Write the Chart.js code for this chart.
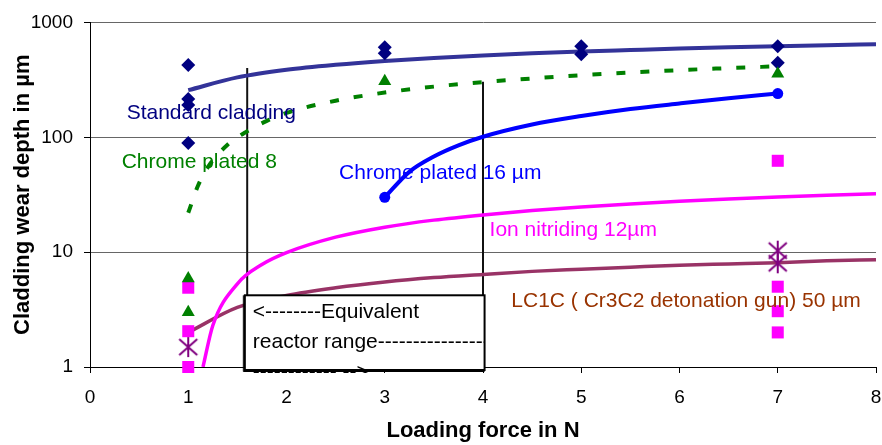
<!DOCTYPE html>
<html>
<head>
<meta charset="utf-8">
<script src="https://cdn.jsdelivr.net/npm/chart.js@4"></script>
<style>
  body { margin: 0; background: #fff; }
</style>
</head>
<body>
<canvas id="wearChart" width="882" height="445"></canvas>
<script>
// measured points
const standardX = [1, 1, 1, 1, 3, 3, 5, 5, 7, 7];
const standardY = [425, 215, 191, 89, 608, 540, 620, 527, 620, 445];
const chrome8X = [1, 1, 3, 7];
const chrome8Y = [5.9, 3.0, 308, 357];
const chrome16X = [3, 7];
const chrome16Y = [30, 240];
const ionX = [1, 1, 1, 7, 7, 7, 7];
const ionY = [4.9, 2.05, 1.0, 62.4, 5.0, 3.06, 2.0];
const lc1cX = [1, 7, 7];
const lc1cY = [1.49, 10.3, 8.0];

// trend curves
const standardFitX = [1, 1.5, 2, 2.5, 3, 3.5, 4, 4.5, 5, 5.5, 6, 6.5, 7, 7.5, 8];
const standardFitY = [257, 332, 387, 428, 462, 490, 515, 538, 558, 575, 592, 607, 621, 634, 645];
const chrome8FitX = [1, 1.1, 1.2, 1.4, 1.6, 1.8, 2, 2.5, 3, 3.5, 4, 4.5, 5, 5.5, 6, 6.5, 7];
const chrome8FitY = [22, 38, 55, 86, 113, 139, 163, 208, 245, 276, 302, 325, 347, 366, 384, 400, 415];
const chrome16FitX = [3, 3.25, 3.5, 3.75, 4, 4.5, 5, 5.5, 6, 6.5, 7];
const chrome16FitY = [30, 50, 68, 85, 101, 129, 153, 176, 197, 219, 240];
const ionFitX = [1.15, 1.25, 1.5, 1.75, 2, 2.5, 3, 3.5, 4, 4.5, 5, 5.5, 6, 6.5, 7, 7.5, 8];
const ionFitY = [1.0, 2.3, 5.3, 7.8, 9.9, 13.5, 16.5, 19, 21.1, 23, 24.7, 26.3, 27.7, 29, 30.2, 31.3, 32.3];
const lc1cFitX = [1, 1.5, 2, 2.5, 3, 3.5, 4, 4.5, 5, 5.5, 6, 6.5, 7, 7.5, 8];
const lc1cFitY = [2.0, 3.3, 4.2, 4.9, 5.5, 6.0, 6.4, 6.8, 7.1, 7.4, 7.7, 7.9, 8.1, 8.4, 8.6];

// equivalent reactor range markers
const reactorX = [1.6, 4.0];
const reactorTop = [400, 305];

const yTicks = [1, 10, 100, 1000];

const FONT = '"Liberation Sans", Arial, sans-serif';
Chart.defaults.font.family = FONT;
Chart.defaults.color = '#000';

function pts(xs, ys) {
    return xs.map((x, i) => ({ x: x, y: ys[i] }));
}

// excel style asterisk marker
const star = document.createElement('canvas');
star.width = 22;
star.height = 22;
(function () {
    const c = star.getContext('2d');
    c.strokeStyle = '#800080';
    c.lineWidth = 2;
    c.beginPath();
    c.moveTo(11, 1); c.lineTo(11, 21);
    c.moveTo(2, 3); c.lineTo(20, 19);
    c.moveTo(20, 3); c.lineTo(2, 19);
    c.stroke();
})();

function curve(xs, ys, color, width, dash) {
    return {
        data: pts(xs, ys),
        showLine: true,
        borderColor: color,
        borderWidth: width,
        borderDash: dash || [],
        pointRadius: 0,
        cubicInterpolationMode: 'monotone',
        order: 10
    };
}

function markers(xs, ys, style, radius, color, order) {
    return {
        data: pts(xs, ys),
        pointStyle: style,
        pointRadius: radius,
        backgroundColor: color,
        borderColor: color,
        borderWidth: 0,
        clip: false,
        order: order
    };
}

const reactorLines = reactorX.map((x, i) => ({
    data: [{ x: x, y: reactorTop[i] }, { x: x, y: 1 }],
    showLine: true,
    borderColor: '#111',
    borderWidth: 2,
    pointRadius: 0,
    order: 11
}));

const notes = [
    { text: 'Standard cladding', x: 0.373, y: 144, color: '#000080' },
    { text: 'Chrome plated 8', x: 0.322, y: 53.5, color: '#008000' },
    { text: 'Chrome plated 16 µm', x: 2.535, y: 43.5, color: '#0000ff' },
    { text: 'Ion nitriding 12µm', x: 4.067, y: 13.95, color: '#ff00ff' },
    { text: 'LC1C ( Cr3C2 detonation gun) 50 µm', x: 4.288, y: 3.33, color: '#993300' }
];

const rangeBox = { x1: 1.576, x2: 4.016, top: 4.21 };
const rangeText = ['<--------Equivalent', 'reactor range----------------', '------------ -->'];

const notesPlugin = {
    id: 'notes',
    afterDatasetsDraw(chart) {
        const ctx = chart.ctx;
        const xs = chart.scales.x, ys = chart.scales.y;
        ctx.save();
        // reactor range box
        const l = xs.getPixelForValue(rangeBox.x1);
        const r = xs.getPixelForValue(rangeBox.x2);
        const t = ys.getPixelForValue(rangeBox.top);
        const b = ys.getPixelForValue(1) + 3;
        ctx.fillStyle = '#fff';
        ctx.fillRect(l, t, r - l, b - t);
        ctx.save();
        ctx.beginPath();
        ctx.rect(l, t, r - l, b - t + 3);
        ctx.clip();
        ctx.fillStyle = '#000';
        ctx.font = '21px ' + FONT;
        ctx.textBaseline = 'alphabetic';
        rangeText.forEach((s, i) => ctx.fillText(s, l + 8, t + 23 + i * 30));
        ctx.restore();
        ctx.strokeStyle = '#000';
        ctx.lineWidth = 2;
        ctx.strokeRect(l, t, r - l, b - t);
        ctx.lineWidth = 1;
        ctx.beginPath();
        ctx.moveTo(l - 1.5, t); ctx.lineTo(l - 1.5, b + 1.5); ctx.lineTo(r, b + 1.5);
        ctx.stroke();

        // series labels
        ctx.font = '21px ' + FONT;
        notes.forEach(n => {
            ctx.fillStyle = n.color;
            ctx.fillText(n.text, xs.getPixelForValue(n.x), ys.getPixelForValue(n.y));
        });
        ctx.restore();
    }
};

new Chart(document.getElementById('wearChart'), {
    type: 'scatter',
    data: {
        datasets: [
            ...reactorLines,
            curve(standardFitX, standardFitY, '#333399', 4),
            curve(chrome8FitX, chrome8FitY, '#008000', 4, [9, 15]),
            curve(chrome16FitX, chrome16FitY, '#0000ff', 4),
            curve(ionFitX, ionFitY, '#ff00ff', 3.5),
            curve(lc1cFitX, lc1cFitY, '#993366', 3.5),
            markers(ionX, ionY, 'rect', 8.5, '#ff00ff', 5),
            markers(standardX, standardY, 'rectRot', 7, '#000080', 4),
            markers(lc1cX, lc1cY, star, 10, '#800080', 3),
            markers(chrome16X, chrome16Y, 'circle', 5.5, '#0000ff', 2),
            markers(chrome8X, chrome8Y, 'triangle', 7.5, '#008000', 1)
        ]
    },
    options: {
        responsive: false,
        animation: false,
        layout: { autoPadding: false, padding: { top: 21, right: 6, left: 0, bottom: 0 } },
        plugins: {
            legend: { display: false },
            tooltip: { enabled: false }
        },
        scales: {
            x: {
                type: 'linear',
                min: 0,
                max: 8,
                afterFit: s => { s.height = 78; s.paddingLeft = 0; s.paddingRight = 0; },
                ticks: { stepSize: 1, padding: 13, maxRotation: 0, font: { size: 19 }, color: '#000' },
                grid: { drawOnChartArea: false, tickLength: 6, tickColor: '#000' },
                border: { color: '#000', width: 1 },
                title: {
                    display: true,
                    text: 'Loading force in N',
                    font: { size: 22, weight: 'bold' },
                    color: '#000',
                    padding: { top: 0, bottom: 1 }
                }
            },
            y: {
                type: 'logarithmic',
                min: 1,
                max: 1000,
                afterFit: s => { s.width = 90; },
                afterBuildTicks: s => { s.ticks = yTicks.map(v => ({ value: v })); },
                ticks: {
                    padding: 11,
                    font: { size: 19 },
                    color: '#000',
                    callback: v => String(v)
                },
                grid: { color: '#666', tickLength: 6, tickColor: '#000' },
                border: { color: '#000', width: 1 },
                title: {
                    display: true,
                    text: 'Cladding wear depth in µm',
                    font: { size: 22, weight: 'bold' },
                    color: '#000',
                    padding: { top: 10, bottom: 0 }
                }
            }
        }
    },
    plugins: [notesPlugin]
});
</script>
</body>
</html>
